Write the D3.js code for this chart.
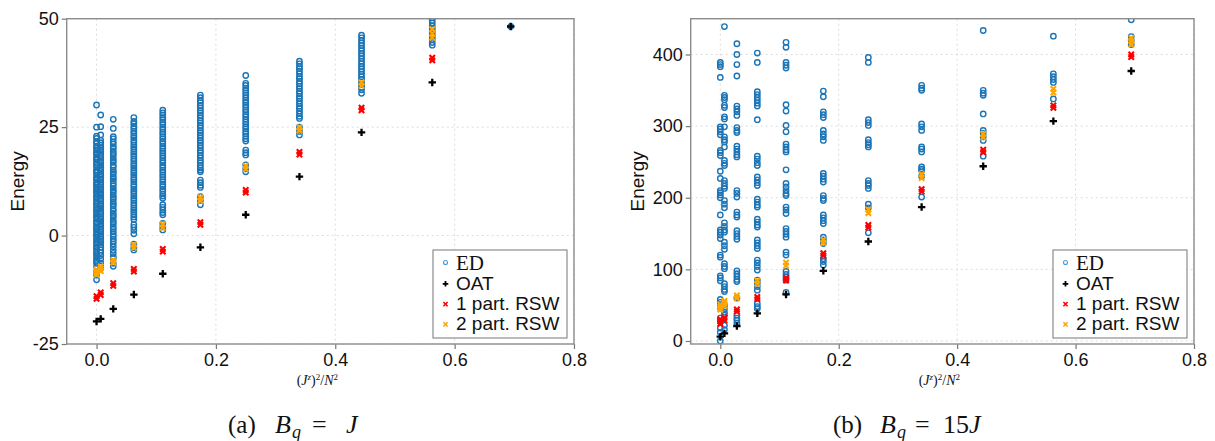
<!DOCTYPE html>
<html>
<head>
<meta charset="utf-8">
<script src="https://cdn.jsdelivr.net/npm/d3@7"></script>
<style>
  body { margin: 0; background: #fff; }
  svg { display: block; }
</style>
</head>
<body>
<svg id="fig" width="1215" height="441"></svg>
<script>
// Columns: (J^z)^2 / N^2 for each magnetisation sector
const xPositions = [0.0, 0.007, 0.028, 0.0625, 0.111, 0.174, 0.25, 0.34, 0.444, 0.5625, 0.694];
const xTicks = [0.0, 0.2, 0.4, 0.6, 0.8];
const yTicksA = [-25, 0, 25, 50];
const yTicksB = [0, 100, 200, 300, 400];
const legendLabels = ["ED", "OAT", "1 part. RSW", "2 part. RSW"];

// ---- Panel (a): B_q = J ----
const edA = [
  [30.1, 25.0, 22.9, 22.4, 21.7, 21.3, 20.6, 20.2, 19.7, 19.1, 18.8, 18.2, 17.7, 17.4, 16.8, 16.3, 15.9, 15.2, 14.8, 14.5, 13.9, 13.3, 13.0, 12.4, 11.9, 11.6, 11.0, 10.5, 10.1, 9.6, 9.0, 8.7, 8.1, 7.6, 7.2, 6.7, 6.1, 5.8, 5.2, 4.7, 4.3, 3.8, 3.2, 2.9, 2.3, 1.8, 1.4, 0.9, 0.3, 0.0, -0.6, -1.1, -1.5, -2.0, -2.6, -2.9, -3.5, -4.0, -4.4, -4.9, -5.5, -5.9, -6.4, -7.2, -8.3, -9.1, -10.2],
  [27.8, 25.1, 23.2, 22.0, 21.4, 20.9, 20.3, 19.8, 19.4, 18.7, 18.3, 17.8, 17.2, 16.9, 16.3, 15.7, 15.4, 14.8, 14.2, 13.9, 13.4, 12.8, 12.3, 11.9, 11.3, 10.8, 10.4, 9.9, 9.3, 8.8, 8.4, 7.9, 7.3, 6.9, 6.4, 5.8, 5.4, 4.9, 4.3, 3.9, 3.4, 2.8, 2.4, 1.9, 1.4, 0.9, 0.4, -0.1, -0.7, -1.2, -1.6, -2.1, -2.7, -3.3, -3.9, -4.6, -5.4, -6.3, -7.0, -7.6],
  [26.8, 24.7, 22.8, 22.3, 21.6, 21.1, 20.5, 20.1, 19.4, 18.9, 18.5, 17.8, 17.3, 16.9, 16.2, 15.8, 15.1, 14.6, 14.2, 13.5, 13.1, 12.6, 12.0, 11.5, 10.9, 10.4, 10.0, 9.3, 8.8, 8.4, 7.7, 7.2, 6.8, 6.1, 5.7, 5.1, 4.6, 4.2, 3.5, 3.0, 2.6, 1.9, 1.5, 0.9, 0.3, -0.2, -0.8, -1.3, -1.9, -2.6, -3.4, -4.1, -4.9, -5.3, -6.4, -7.1],
  [27.2, 26.3, 25.8, 25.2, 24.7, 24.1, 23.6, 23.0, 22.6, 22.0, 21.5, 20.9, 20.4, 19.9, 19.3, 18.8, 18.3, 17.7, 17.2, 16.6, 16.1, 15.6, 15.0, 14.5, 14.0, 13.4, 12.9, 12.4, 11.8, 11.3, 10.7, 10.2, 9.7, 9.1, 8.6, 8.1, 7.5, 7.0, 6.4, 5.9, 5.4, 4.8, 4.3, 3.7, 2.5, 1.9, 1.2, 0.4, -2.0, -2.8, -3.3],
  [28.9, 28.3, 27.8, 27.2, 26.7, 26.1, 25.6, 25.0, 24.5, 23.9, 23.4, 22.8, 22.3, 21.7, 21.2, 20.6, 20.1, 19.5, 19.0, 18.4, 17.9, 17.3, 16.8, 16.2, 15.7, 15.1, 14.6, 14.0, 13.5, 12.9, 12.4, 11.8, 11.3, 10.7, 10.2, 9.6, 9.1, 8.6, 7.1, 6.5, 5.9, 5.3, 4.8, 2.8, 2.0, 1.3],
  [32.4, 31.8, 31.1, 30.6, 30.0, 29.4, 28.8, 28.3, 27.7, 27.1, 26.5, 26.0, 25.4, 24.8, 24.2, 23.7, 23.1, 22.5, 21.9, 21.4, 20.8, 20.2, 19.6, 19.1, 18.5, 17.9, 17.3, 16.8, 16.2, 15.6, 15.1, 14.7, 12.8, 12.2, 11.6, 11.1, 9.0, 8.1, 7.1],
  [36.9, 35.1, 34.6, 34.0, 33.5, 32.9, 32.4, 31.8, 31.2, 30.7, 30.1, 29.6, 29.0, 28.5, 27.9, 27.4, 26.8, 26.2, 25.7, 25.1, 24.6, 24.0, 23.5, 22.9, 22.3, 21.8, 19.7, 19.1, 18.6, 16.3, 15.4, 14.7],
  [40.2, 39.6, 39.0, 38.5, 37.9, 37.3, 36.7, 36.2, 35.6, 35.0, 34.4, 33.9, 33.3, 32.7, 32.1, 31.6, 31.0, 30.4, 29.8, 29.3, 28.7, 28.1, 27.5, 27.0, 25.0, 24.0, 23.2],
  [46.2, 45.6, 45.0, 44.4, 43.8, 43.2, 42.6, 42.0, 41.4, 40.8, 40.2, 39.6, 39.0, 38.4, 37.8, 37.2, 36.6, 36.0, 35.4, 34.8, 34.2, 33.6, 32.8],
  [51.5, 50.9, 50.2, 49.6, 49.0, 48.3, 47.7, 47.1, 46.4, 45.8, 45.2, 44.5, 43.9],
  [48.2]
];
const oatA = [-19.8, -19.2, -16.9, -13.6, -8.8, -2.7, 4.8, 13.6, 23.8, 35.3, 48.2];
const rsw1A = [[-14.6, -14.0], [-13.7, -13.1], [-11.6, -11.0], [-8.3, -7.7], [-3.7, -3.1], [2.5, 3.1], [9.9, 10.5], [18.7, 19.3], [28.9, 29.5], [40.4, 41.0], []];
const rsw2A = [[-9.0, -8.4, -7.9], [-8.2, -7.6, -7.1], [-6.2, -5.6], [-2.8, -2.1], [1.8, 2.6], [8.0, 8.8], [15.3, 16.1], [24.2, 25.0], [34.5, 35.3], [45.6, 46.6, 47.6], []];

// ---- Panel (b): B_q = 15J ----
const edB = [
  [389, 386, 383, 368, 299, 296, 292, 288, 266, 263, 259, 237, 227, 210, 207, 204, 200, 176, 155, 152, 148, 143, 120, 117, 91, 88, 84, 58, 54, 50, 46, 32, 28, 18, 12, 0],
  [439, 343, 340, 337, 329, 326, 313, 310, 299, 285, 281, 278, 271, 252, 248, 245, 224, 220, 216, 213, 196, 191, 186, 165, 160, 155, 152, 138, 133, 128, 108, 104, 101, 80, 76, 72, 69, 50, 45, 40, 36, 22, 16],
  [415, 400, 386, 370, 328, 324, 320, 315, 298, 294, 291, 272, 268, 264, 260, 257, 210, 206, 201, 180, 176, 173, 154, 150, 146, 142, 98, 94, 90, 86, 83, 60, 36, 32, 29, 25],
  [402, 389, 348, 344, 340, 336, 332, 328, 309, 258, 254, 249, 245, 229, 225, 221, 217, 198, 194, 190, 187, 170, 166, 162, 159, 141, 137, 133, 129, 113, 109, 104, 99, 85, 81, 76, 71, 52, 48, 45],
  [417, 410, 389, 385, 381, 330, 321, 301, 292, 275, 271, 267, 264, 239, 220, 215, 210, 206, 203, 187, 183, 178, 157, 153, 149, 145, 124, 120, 97, 93, 89, 85, 68],
  [349, 341, 320, 316, 312, 294, 289, 285, 280, 234, 230, 226, 222, 203, 199, 196, 176, 172, 168, 164, 145, 141, 136, 115, 111, 106],
  [396, 389, 309, 305, 301, 281, 277, 274, 271, 224, 220, 217, 213, 191, 186, 151],
  [357, 353, 350, 303, 299, 294, 271, 268, 264, 243, 240, 238, 230, 201],
  [433.5, 350, 346, 343, 317, 294, 290, 285, 280, 258],
  [425.6, 373, 369, 365, 361, 338],
  [448.4, 425, 420, 414]
];
const oatB = [6, 10.7, 20.9, 38.5, 65, 98, 138.9, 187, 244, 307, 377];
const rsw1B = [[24, 27, 30], [29, 32.5], [41, 44], [58.5, 61.5], [84.5, 88], [119, 122.5], [158.5, 162], [208.5, 212], [263.5, 267], [325.5, 329], [396.5, 400]];
const rsw2B = [[44, 47.5, 51], [49, 53, 56], [59.5, 63.5], [80, 84.5], [105, 109.5], [137, 141.5], [178.5, 183.5], [227.5, 233], [284, 289], [347, 352], [414, 419, 423]];

const COLORS = { ed: "#1a74b6", oat: "#000000", rsw1: "#ff0000", rsw2: "#ffa500" };
const SANS = "'Liberation Sans', Arial, Helvetica, sans-serif";
const SERIF = "'Liberation Serif', 'Times New Roman', serif";

const svg = d3.select("#fig");

// flatten per-column lists into {x, y} points
function points(cols) {
  const out = [];
  cols.forEach((vals, i) => {
    (Array.isArray(vals) ? vals : [vals]).forEach(v => out.push({ x: xPositions[i], y: v }));
  });
  return out;
}

const plusPath = s => `M${-s},0H${s}M0,${-s}V${s}`;
const crossPath = s => `M${-s},${-s}L${s},${s}M${-s},${s}L${s},${-s}`;

function panel(cfg) {
  const x = d3.scaleLinear().domain([-0.05, 0.8]).range([cfg.left, cfg.right]);
  const y = d3.scaleLinear().domain(cfg.yDomain).range([cfg.bottom, cfg.top]);
  const g = svg.append("g");

  // dotted grid
  g.append("g").selectAll("line.vg").data(xTicks).join("line")
    .attr("x1", d => x(d)).attr("x2", d => x(d))
    .attr("y1", cfg.top).attr("y2", cfg.bottom)
    .attr("stroke", "#dcdcdc").attr("stroke-width", 1).attr("stroke-dasharray", "2,3");
  g.append("g").selectAll("line.hg").data(cfg.yTicks).join("line")
    .attr("x1", cfg.left).attr("x2", cfg.right)
    .attr("y1", d => y(d)).attr("y2", d => y(d))
    .attr("stroke", "#dcdcdc").attr("stroke-width", 1).attr("stroke-dasharray", "2,3");

  // clip region for the marks
  const clipId = "clip-" + cfg.id;
  svg.append("clipPath").attr("id", clipId).append("rect")
    .attr("x", cfg.left).attr("y", cfg.top)
    .attr("width", cfg.right - cfg.left).attr("height", cfg.bottom - cfg.top);
  const marks = g.append("g").attr("clip-path", `url(#${clipId})`);

  marks.append("g").selectAll("circle").data(points(cfg.ed)).join("circle")
    .attr("cx", d => x(d.x)).attr("cy", d => y(d.y)).attr("r", 2.7)
    .attr("fill", "none").attr("stroke", COLORS.ed).attr("stroke-width", 1.4);

  marks.append("g").selectAll("path").data(points(cfg.oat)).join("path")
    .attr("transform", d => `translate(${x(d.x)},${y(d.y)})`)
    .attr("d", plusPath(3.7)).attr("stroke", COLORS.oat).attr("stroke-width", 2.3);

  marks.append("g").selectAll("path").data(points(cfg.rsw1)).join("path")
    .attr("transform", d => `translate(${x(d.x)},${y(d.y)})`)
    .attr("d", crossPath(2.7)).attr("stroke", COLORS.rsw1).attr("stroke-width", 2.1);

  marks.append("g").selectAll("path").data(points(cfg.rsw2)).join("path")
    .attr("transform", d => `translate(${x(d.x)},${y(d.y)})`)
    .attr("d", crossPath(2.7)).attr("stroke", COLORS.rsw2).attr("stroke-width", 2.1);

  // axes
  const yAxis = d3.axisLeft(y).tickValues(cfg.yTicks).tickSize(5).tickPadding(3).tickFormat(d => String(d));
  const xAxis = d3.axisBottom(x).tickValues(xTicks).tickSize(5).tickPadding(4).tickFormat(d3.format(".1f"));
  const ya = g.append("g").attr("transform", `translate(${cfg.left},0)`).call(yAxis);
  const xa = g.append("g").attr("transform", `translate(0,${cfg.bottom})`).call(xAxis);
  [ya, xa].forEach(a => {
    a.select(".domain").remove();
    a.selectAll(".tick line").attr("stroke", "#777").attr("stroke-width", 1.2);
    a.selectAll(".tick text").attr("fill", "#111").style("font-family", SANS).style("font-size", "18px");
  });

  // frame
  g.append("rect").attr("x", cfg.left).attr("y", cfg.top)
    .attr("width", cfg.right - cfg.left).attr("height", cfg.bottom - cfg.top)
    .attr("fill", "none").attr("stroke", "#8c8c8c").attr("stroke-width", 1.4);

  // y label
  g.append("text")
    .attr("transform", `translate(${cfg.yLabelX},${(cfg.top + cfg.bottom) / 2}) rotate(-90)`)
    .attr("text-anchor", "middle")
    .style("font-family", SANS).style("font-size", "19px").attr("fill", "#111")
    .text("Energy");

  // x label: (J^z)^2 / N^2
  const xl = g.append("text")
    .attr("x", (cfg.left + cfg.right) / 2 - 3).attr("y", 385)
    .attr("text-anchor", "middle")
    .style("font-family", SERIF).style("font-size", "14px").attr("fill", "#111");
  xl.append("tspan").text("(");
  xl.append("tspan").attr("font-style", "italic").text("J");
  xl.append("tspan").attr("font-style", "italic").attr("font-size", "9px").attr("dy", -5).text("z");
  xl.append("tspan").attr("dy", 5).text(")");
  xl.append("tspan").attr("font-size", "9px").attr("dy", -5).text("2");
  xl.append("tspan").attr("dy", 5).text("/");
  xl.append("tspan").attr("font-style", "italic").text("N");
  xl.append("tspan").attr("font-size", "9px").attr("dy", -5).text("2");

  // legend
  const lx = cfg.right - 141, ly = 250, lw = 134, lh = 88;
  const lg = g.append("g");
  lg.append("rect").attr("x", lx).attr("y", ly).attr("width", lw).attr("height", lh)
    .attr("fill", "#fff").attr("stroke", "#8c8c8c").attr("stroke-width", 1.2);
  legendLabels.forEach((lab, i) => {
    const cy = ly + 12.5 + i * 20.3;
    const mx = lx + 12.5;
    if (i === 0) {
      lg.append("circle").attr("cx", mx).attr("cy", cy).attr("r", 2)
        .attr("fill", "none").attr("stroke", "#4a9ad4").attr("stroke-width", 1.1);
    } else if (i === 1) {
      lg.append("path").attr("transform", `translate(${mx},${cy + 1})`).attr("d", plusPath(2.8))
        .attr("stroke", COLORS.oat).attr("stroke-width", 1.8);
    } else {
      lg.append("path").attr("transform", `translate(${mx},${cy + 1})`).attr("d", crossPath(2.1))
        .attr("stroke", i === 2 ? COLORS.rsw1 : COLORS.rsw2).attr("stroke-width", 1.6);
    }
    lg.append("text").attr("x", lx + 23).attr("y", cy + 7)
      .style("font-family", i === 0 ? SERIF : SANS)
      .style("font-size", i === 0 ? "21px" : "19px").attr("fill", "#111")
      .text(lab);
  });

  // sub-caption, laid out with math spacing
  const c = cfg.caption;
  const cap = g.append("g").style("font-family", SERIF).attr("fill", "#111");
  cap.append("text").attr("x", c.tag).attr("y", 433).style("font-size", "25px").text(c.tagText);
  cap.append("text").attr("x", c.b).attr("y", 433).style("font-size", "26px").attr("font-style", "italic").text("B");
  cap.append("text").attr("x", c.b + 17).attr("y", 438).style("font-size", "18px").attr("font-style", "italic").text("q");
  cap.append("text").attr("x", c.eq).attr("y", 433).style("font-size", "26px").text("=");
  const rhs = cap.append("text").attr("x", c.rhs).attr("y", 433).style("font-size", "26px");
  if (c.num) rhs.append("tspan").text(c.num);
  rhs.append("tspan").attr("font-style", "italic").text("J");
}

panel({
  id: "a", left: 66.7, right: 574, top: 18.7, bottom: 344,
  yDomain: [-25, 50], yTicks: yTicksA, yLabelX: 24,
  ed: edA, oat: oatA, rsw1: rsw1A, rsw2: rsw2A,
  caption: { tag: 228, tagText: "(a)", b: 275, eq: 312, rhs: 346, num: "" }
});

panel({
  id: "b", left: 690.7, right: 1194, top: 18.7, bottom: 344,
  yDomain: [-4.2, 450], yTicks: yTicksB, yLabelX: 644,
  ed: edB, oat: oatB, rsw1: rsw1B, rsw2: rsw2B,
  caption: { tag: 833, tagText: "(b)", b: 880, eq: 915, rhs: 943, num: "15" }
});
</script>
</body>
</html>
